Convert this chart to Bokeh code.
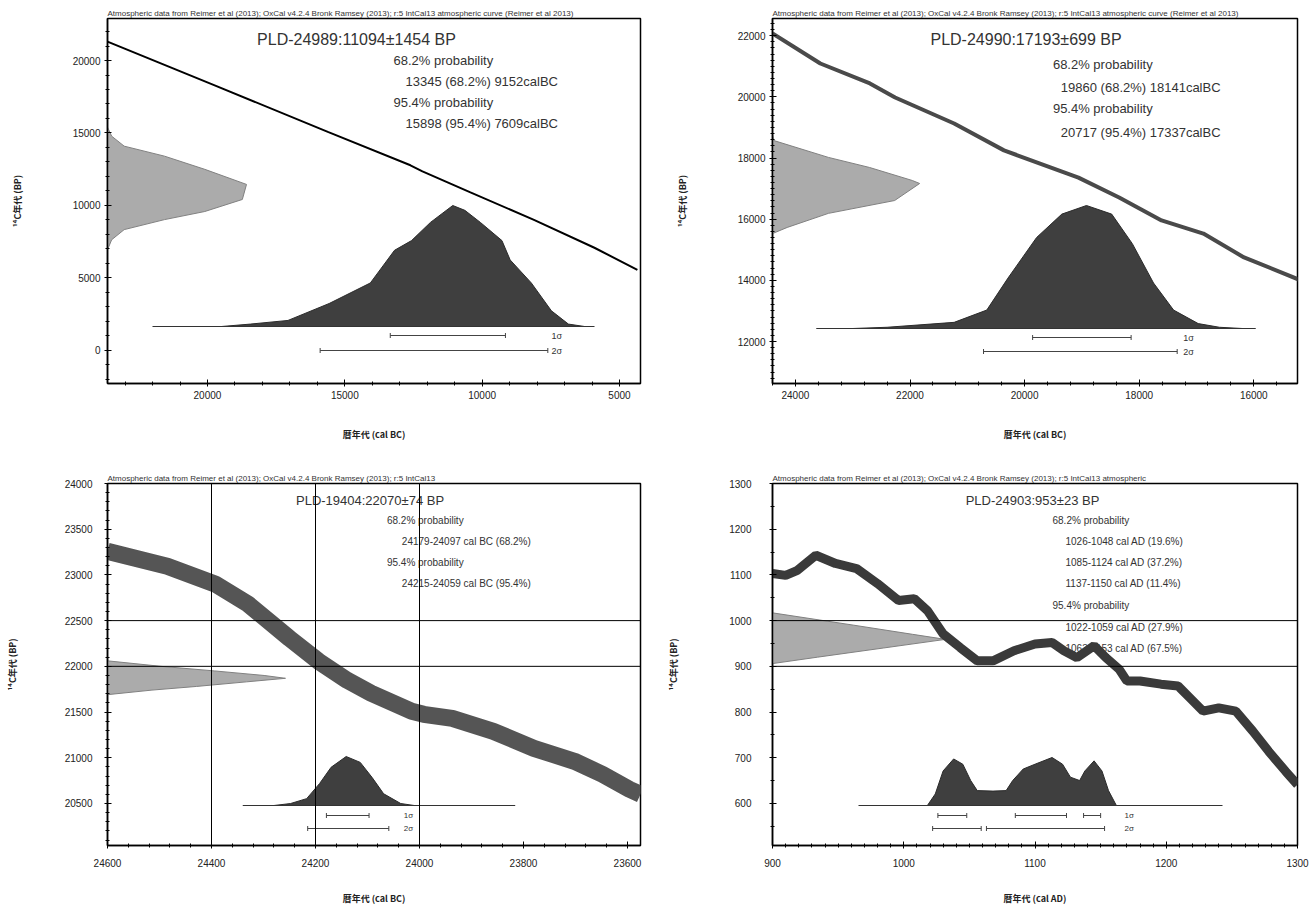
import numpy as np
from bokeh.plotting import figure
from bokeh.models import Range1d, SingleIntervalTicker, Span, Label
from bokeh.layouts import gridplot
from bokeh.embed import file_html
from bokeh.resources import INLINE

# ---------------- data ----------------
# Panel A (top-left)
A_header = "Atmospheric data from Reimer et al (2013); OxCal v4.2.4 Bronk Ramsey (2013); r:5 IntCal13 atmospheric curve (Reimer et al 2013)"
A_title = "PLD-24989:11094±1454 BP"
A_text = ["68.2% probability", "13345 (68.2%) 9152calBC", "95.4% probability", "15898 (95.4%) 7609calBC"]
A_curve_calbc = [23640, 19782, 15596, 12611, 12174, 10427, 8134, 5913, 4348]
A_curve_bp = [21306, 18322, 15060, 12770, 12353, 10896, 9022, 7079, 5552]
A_c14_bp = [15400, 14780, 14090, 13400, 12490, 11450, 10410, 9580, 9020, 8330, 7630, 6940]
A_c14_p = [0.0, 0.03, 0.12, 0.41, 0.70, 1.0, 0.97, 0.70, 0.41, 0.12, 0.03, 0.0]
A_cal_calbc = [19490, 18435, 17070, 15570, 14070, 13190, 12570, 11883, 11070, 10630, 10063, 9280, 8980, 8210, 7480, 6860, 6270]
A_cal_p = [0.0, 0.02, 0.05, 0.19, 0.36, 0.63, 0.71, 0.86, 1.0, 0.96, 0.86, 0.71, 0.55, 0.36, 0.13, 0.02, 0.0]
A_1s = [(13345, 9152)]
A_2s = [(15898, 7609)]

# Panel B (top-right)
B_header = "Atmospheric data from Reimer et al (2013); OxCal v4.2.4 Bronk Ramsey (2013); r:5 IntCal13 atmospheric curve (Reimer et al 2013)"
B_title = "PLD-24990:17193±699 BP"
B_text = ["68.2% probability", "19860 (68.2%) 18141calBC", "95.4% probability", "20717 (95.4%) 17337calBC"]
B_curve_calbc = [24400, 23565, 22700, 22260, 21230, 20360, 19060, 18350, 17610, 16880, 16170, 15180]
B_curve_bp = [22070, 21090, 20440, 19980, 19130, 18250, 17360, 16710, 15960, 15530, 14750, 14000]
B_c14_bp = [18800, 18570, 18020, 17690, 17265, 17167, 16610, 16190, 15730, 15530]
B_c14_p = [0.0, 0.01, 0.38, 0.66, 0.95, 1.0, 0.83, 0.38, 0.10, 0.0]
B_cal_calbc = [23000, 22400, 21230, 20660, 20290, 19790, 19350, 18920, 18480, 18120, 17750, 17400, 16970, 16600, 16200]
B_cal_p = [0.0, 0.01, 0.05, 0.15, 0.41, 0.74, 0.93, 1.0, 0.93, 0.69, 0.37, 0.15, 0.04, 0.01, 0.0]
B_1s = [(19860, 18141)]
B_2s = [(20717, 17337)]

# Panel C (bottom-left)
C_header = "Atmospheric data from Reimer et al (2013); OxCal v4.2.4 Bronk Ramsey (2013); r:5 IntCal13"
C_title = "PLD-19404:22070±74 BP"
C_text = ["68.2% probability", "24179-24097 cal BC (68.2%)", "95.4% probability", "24215-24059 cal BC (95.4%)"]
C_curve_calbc = [24600, 24485, 24392, 24329, 24250, 24194, 24139, 24093, 24015, 23992, 23937, 23858, 23780, 23702, 23648, 23596, 23575]
C_curve_bp = [23258, 23094, 22897, 22678, 22306, 22055, 21847, 21705, 21508, 21475, 21431, 21289, 21103, 20961, 20818, 20654, 20600]
C_c14_bp = [22060, 22000, 21950, 21900, 21869, 21830, 21780, 21740, 21690]
C_c14_p = [0.0, 0.3, 0.6, 0.88, 1.0, 0.78, 0.5, 0.25, 0.0]
C_cal_calbc = [24280, 24248, 24217, 24192, 24170, 24141, 24114, 24091, 24069, 24036, 24010]
C_cal_p = [0.0, 0.04, 0.14, 0.45, 0.78, 1.0, 0.88, 0.57, 0.24, 0.04, 0.0]
C_1s = [(24179, 24097)]
C_2s = [(24215, 24059)]
C_vlines = [24400, 24200, 24000]
C_hlines = [22500, 22000]

# Panel D (bottom-right)
D_header = "Atmospheric data from Reimer et al (2013); OxCal v4.2.4 Bronk Ramsey (2013); r:5 IntCal13 atmospheric"
D_title = "PLD-24903:953±23 BP"
D_text = ["68.2% probability", "1026-1048 cal AD (19.6%)", "1085-1124 cal AD (37.2%)", "1137-1150 cal AD (11.4%)",
          "95.4% probability", "1022-1059 cal AD (27.9%)", "1063-1153 cal AD (67.5%)"]
D_curve_ad = [900, 910, 919, 933, 948, 964, 980, 996, 1008, 1018, 1030, 1043, 1056, 1068, 1084, 1100, 1113, 1122,
              1132, 1145, 1154, 1164, 1170, 1180, 1196, 1209, 1218, 1228, 1240, 1253, 1266, 1278, 1291, 1300]
D_curve_bp = [1103, 1099, 1110, 1143, 1125, 1114, 1081, 1044, 1048, 1022, 971, 941, 912, 912, 934, 949, 952, 934,
              919, 945, 919, 894, 868, 868, 861, 857, 831, 802, 809, 802, 758, 714, 670, 641]
D_c14_bp = [1017, 990, 970, 959, 940, 920, 906]
D_c14_p = [0.0, 0.47, 0.81, 1.0, 0.64, 0.26, 0.0]
D_cal_ad = [1018, 1024, 1030, 1038, 1045, 1051, 1056, 1068, 1078, 1083, 1091, 1100, 1113, 1121, 1127, 1134, 1138,
            1145, 1151, 1156, 1162]
D_cal_p = [0.0, 0.24, 0.72, 0.97, 0.86, 0.52, 0.31, 0.30, 0.31, 0.52, 0.76, 0.86, 1.0, 0.86, 0.59, 0.52, 0.72,
           0.93, 0.72, 0.31, 0.0]
D_1s = [(1026, 1048), (1085, 1124), (1137, 1150)]
D_2s = [(1022, 1059), (1063, 1153)]
D_hlines = [1000, 900]

Y_LABEL = "¹⁴C年代 (BP)"
X_LABEL_BC = "暦年代 (cal BC)"
X_LABEL_AD = "暦年代 (cal AD)"

TICK_FONT = "Liberation Sans"
TXT_FONT = "Liberation Sans"
CJK_FONT = "Noto Sans CJK JP"


def make_panel(ox, oy, fw, fh, fl, fr, ft, fb, xr, yr, xt, yt, xlabel, header,
               ylab_standoff, xlab_standoff, ytitle_standoff, xtitle_standoff):
    p = figure(width=fw, height=fh, x_range=Range1d(*xr), y_range=Range1d(*yr),
               output_backend="svg", toolbar_location=None,
               min_border_left=fl - ox, min_border_right=ox + fw - fr,
               min_border_top=ft - oy, min_border_bottom=oy + fh - fb)
    p.background_fill_color = "white"
    p.border_fill_color = "white"
    p.outline_line_color = "black"
    p.outline_line_width = 1.5
    p.grid.visible = False
    p.title.text = header
    p.title.text_font = TXT_FONT
    p.title.text_font_size = "8px"
    p.title.text_font_style = "normal"
    p.title.text_color = "#333333"
    p.title.standoff = 1
    p.title.offset = 0
    p.xaxis.ticker = SingleIntervalTicker(interval=xt[0], num_minor_ticks=xt[1])
    p.yaxis.ticker = SingleIntervalTicker(interval=yt[0], num_minor_ticks=yt[1])
    for ax in (p.xaxis, p.yaxis):
        ax.axis_line_width = 1.5
        ax.axis_line_color = "black"
        ax.major_tick_in = 4
        ax.major_tick_out = 3
        ax.minor_tick_in = 2
        ax.minor_tick_out = 2
        ax.major_label_text_font = TICK_FONT
        ax.major_label_text_font_size = "10px"
        ax.major_label_text_color = "#222222"
        ax.axis_label_text_font = CJK_FONT
        ax.axis_label_text_font_size = "9px"
        ax.axis_label_text_font_style = "bold"
        ax.axis_label_text_color = "#222222"
    p.yaxis.major_label_standoff = ylab_standoff
    p.xaxis.major_label_standoff = xlab_standoff
    p.yaxis.axis_label = Y_LABEL
    p.xaxis.axis_label = xlabel
    p.yaxis.axis_label_standoff = ytitle_standoff
    p.xaxis.axis_label_standoff = xtitle_standoff

    def X(px):
        return xr[0] + (px - fl) / (fr - fl) * (xr[1] - xr[0])

    def Y(py):
        return yr[1] - (py - ft) / (fb - ft) * (yr[1] - yr[0])

    return p, X, Y


def add_texts(p, X, Y, title, tpos, tsize, lines, lx, lx2, ly, lsize):
    p.add_layout(Label(x=X(tpos[0]), y=Y(tpos[1]), text=title, text_align="center",
                       text_baseline="middle", text_font=TXT_FONT, text_font_size=tsize,
                       text_color="#333333", level="underlay"))
    for t, yy in zip(lines, ly):
        xx = lx if "probability" in t else lx2
        p.add_layout(Label(x=X(xx), y=Y(yy), text=t, text_align="left", text_baseline="middle",
                           text_font=TXT_FONT, text_font_size=lsize, text_color="#333333",
                           level="underlay"))


def c14_dist(p, bps, ps, edge, width):
    x2 = [edge + v * width for v in ps]
    p.harea(y=bps, x1=[edge] * len(bps), x2=x2, fill_color="#ababab")
    p.line(x2, bps, line_color="#808080", line_width=1)


def cal_dist(p, xs, ps, base, height, bx0, bx1):
    y2 = [base + v * height for v in ps]
    p.varea(x=xs, y1=[base] * len(xs), y2=y2, fill_color="#3f3f3f")
    p.line(xs, y2, line_color="#2b2b2b", line_width=1)
    p.segment(x0=[bx0], y0=[base], x1=[bx1], y1=[base], line_color="#333333", line_width=1.2)


def range_bars(p, ranges, y, label, lx, fsize):
    p.segment(x0=[a for a, b in ranges], y0=[y] * len(ranges), x1=[b for a, b in ranges],
              y1=[y] * len(ranges), line_color="#444444", line_width=1)
    ends = [v for r in ranges for v in r]
    p.scatter(ends, [y] * len(ends), marker="dash", angle=np.pi / 2, size=5,
              line_color="#444444", line_width=1)
    p.add_layout(Label(x=lx, y=y, text=label, text_align="left", text_baseline="middle",
                       text_font=TXT_FONT, text_font_size=fsize, text_color="#333333"))


# ---------------- Panel A ----------------
pA, XA, YA = make_panel(0, 0, 654, 454, 107, 640, 18, 383, (23640, 4235), (-2290, 22900),
                        (5000, 5), (5000, 5), X_LABEL_BC, A_header, 4, 4, 46, 26)
c14_dist(pA, A_c14_bp, A_c14_p, XA(107), XA(246) - XA(107))
pA.line(A_curve_calbc, A_curve_bp, line_color="black", line_width=2)
cal_dist(pA, A_cal_calbc, A_cal_p, YA(326), YA(205) - YA(326), XA(152), XA(594))
range_bars(pA, A_1s, YA(335), "1σ", XA(551), "9px")
range_bars(pA, A_2s, YA(350), "2σ", XA(551), "9px")
add_texts(pA, XA, YA, A_title, (356, 39), "16px", A_text, 393, 405, [60, 81, 102, 123], "13px")

# ---------------- Panel B ----------------
pB, XB, YB = make_panel(654, 0, 655, 454, 770, 1298, 18, 383, (24400, 15237), (10627, 22562),
                        (2000, 5), (2000, 10), X_LABEL_BC, B_header, 4, 4, 46, 26)
c14_dist(pB, B_c14_bp, B_c14_p, XB(770), XB(918) - XB(770))
pB.line(B_curve_calbc, B_curve_bp, line_color="#4a4a4a", line_width=4)
cal_dist(pB, B_cal_calbc, B_cal_p, YB(328), YB(205) - YB(328), XB(814), XB(1256))
range_bars(pB, B_1s, YB(337), "1σ", XB(1183), "9px")
range_bars(pB, B_2s, YB(351), "2σ", XB(1183), "9px")
add_texts(pB, XB, YB, B_title, (1025, 39), "16px", B_text, 1052, 1060, [64, 87, 108, 132], "13px")

# ---------------- Panel C ----------------
pC, XC, YC = make_panel(0, 454, 654, 454, 104, 640, 483, 845, (24600, 23575), (20040, 24000),
                        (200, 5), (500, 5), X_LABEL_BC, C_header, 12, 10, 43, 22)
for v in C_vlines:
    pC.add_layout(Span(location=v, dimension="height", line_color="black", line_width=1))
for v in C_hlines:
    pC.add_layout(Span(location=v, dimension="width", line_color="black", line_width=1))
c14_dist(pC, C_c14_bp, C_c14_p, XC(104), XC(283) - XC(104))
pC.line(C_curve_calbc, C_curve_bp, line_color="#555555", line_width=17)
cal_dist(pC, C_cal_calbc, C_cal_p, YC(805), YC(756) - YC(805), XC(240), XC(514))
range_bars(pC, C_1s, YC(815), "1σ", XC(402), "8px")
range_bars(pC, C_2s, YC(828), "2σ", XC(402), "8px")
add_texts(pC, XC, YC, C_title, (368, 500), "13px", C_text, 385, 400, [520, 541, 562, 583], "10px")

# ---------------- Panel D ----------------
pD, XD, YD = make_panel(654, 454, 655, 454, 772, 1297, 483, 845, (900, 1300), (508, 1300),
                        (100, 10), (100, 2), X_LABEL_AD, D_header, 18, 10, 46, 22)
for v in D_hlines:
    pD.add_layout(Span(location=v, dimension="width", line_color="black", line_width=1))
add_texts(pD, XD, YD, D_title, (1032, 500), "13px", D_text, 1052, 1065,
          [520, 541, 562, 583, 605, 627, 648], "10px")
c14_dist(pD, D_c14_bp, D_c14_p, XD(772), XD(945) - XD(772))
pD.line(D_curve_ad, D_curve_bp, line_color="#3a3a3a", line_width=9)
cal_dist(pD, D_cal_ad, D_cal_p, YD(805), YD(757) - YD(805), XD(858), XD(1222))
range_bars(pD, D_1s, YD(815), "1σ", XD(1124), "8px")
range_bars(pD, D_2s, YD(828), "2σ", XD(1124), "8px")

grid = gridplot([[pA, pB], [pC, pD]], toolbar_location=None)

open("out.html", "w").write(file_html(grid, INLINE))
